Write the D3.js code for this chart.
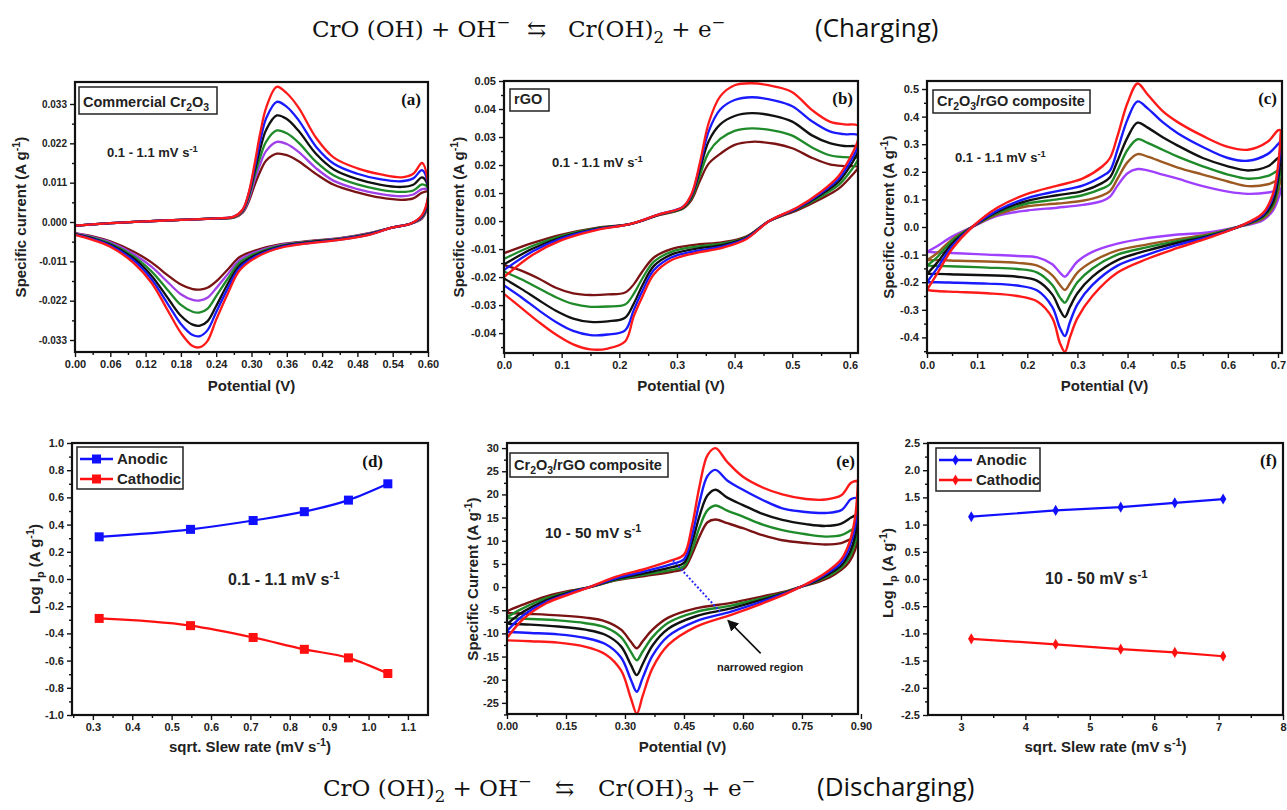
<!DOCTYPE html>
<html>
<head>
<meta charset="utf-8">
<script src="https://cdn.jsdelivr.net/npm/d3@7"></script>
<style>
  body { margin: 0; background: #fff; }
  text { font-family: 'Liberation Sans', Arial, sans-serif; }
</style>
</head>
<body>
<div id="figure"></div>
<script>
// ---------- panel (a) : commercial Cr2O3, 0.1 - 1.1 mV/s ----------
const aFwdX = [0, 0.06, 0.12, 0.18, 0.24, 0.27, 0.285, 0.295, 0.305, 0.315, 0.325, 0.343, 0.36, 0.38, 0.41, 0.44, 0.48, 0.52, 0.555, 0.575, 0.59, 0.60]
const aFwdY = [
  [-0.0010, -0.0003, 0.0002, 0.0006, 0.0010, 0.0015, 0.0035, 0.0080, 0.0160, 0.0250, 0.0320, 0.0378, 0.0360, 0.0320, 0.0235, 0.0180, 0.0150, 0.0133, 0.0125, 0.0135, 0.0165, 0.0110],
  [-0.0010, -0.0003, 0.0002, 0.0006, 0.0010, 0.0015, 0.0034, 0.0078, 0.0150, 0.0228, 0.0290, 0.0336, 0.0322, 0.0285, 0.0210, 0.0163, 0.0135, 0.0119, 0.0114, 0.0122, 0.0145, 0.0105],
  [-0.0010, -0.0003, 0.0002, 0.0006, 0.0010, 0.0014, 0.0032, 0.0074, 0.0140, 0.0205, 0.0258, 0.0298, 0.0288, 0.0255, 0.0190, 0.0147, 0.0120, 0.0104, 0.0098, 0.0104, 0.0125, 0.0100],
  [-0.0010, -0.0003, 0.0002, 0.0006, 0.0010, 0.0013, 0.0030, 0.0068, 0.0128, 0.0182, 0.0225, 0.0256, 0.0248, 0.0222, 0.0168, 0.0130, 0.0105, 0.0090, 0.0084, 0.0088, 0.0105, 0.0095],
  [-0.0010, -0.0003, 0.0002, 0.0006, 0.0010, 0.0013, 0.0028, 0.0062, 0.0116, 0.0163, 0.0199, 0.0224, 0.0218, 0.0196, 0.0150, 0.0115, 0.0092, 0.0078, 0.0072, 0.0077, 0.0092, 0.0090],
  [-0.0010, -0.0003, 0.0002, 0.0006, 0.0010, 0.0012, 0.0026, 0.0056, 0.0102, 0.0142, 0.0172, 0.0191, 0.0187, 0.0170, 0.0134, 0.0104, 0.0083, 0.0068, 0.0062, 0.0066, 0.0082, 0.0085]
]
const aRevX = [0.60, 0.59, 0.57, 0.54, 0.50, 0.45, 0.40, 0.35, 0.31, 0.28, 0.26, 0.24, 0.225, 0.2125, 0.20, 0.18, 0.16, 0.13, 0.10, 0.06, 0.03, 0]
const aRevY = [
  [0.0070, 0.0020, -0.0005, -0.0015, -0.0036, -0.0050, -0.0059, -0.0072, -0.0097, -0.0135, -0.0199, -0.0273, -0.0333, -0.0350, -0.0347, -0.0310, -0.0254, -0.0170, -0.0115, -0.0069, -0.0050, -0.0036],
  [0.0065, 0.0018, -0.0005, -0.0015, -0.0035, -0.0049, -0.0058, -0.0070, -0.0094, -0.0128, -0.0185, -0.0252, -0.0303, -0.0319, -0.0316, -0.0285, -0.0235, -0.0160, -0.0108, -0.0066, -0.0048, -0.0035],
  [0.0060, 0.0016, -0.0005, -0.0015, -0.0034, -0.0048, -0.0056, -0.0068, -0.0090, -0.0121, -0.0172, -0.0235, -0.0278, -0.0290, -0.0287, -0.0262, -0.0218, -0.0150, -0.0102, -0.0063, -0.0046, -0.0034],
  [0.0055, 0.0014, -0.0005, -0.0015, -0.0033, -0.0047, -0.0055, -0.0066, -0.0086, -0.0113, -0.0158, -0.0207, -0.0243, -0.0253, -0.0251, -0.0232, -0.0195, -0.0138, -0.0096, -0.0060, -0.0044, -0.0033],
  [0.0052, 0.0012, -0.0005, -0.0015, -0.0032, -0.0046, -0.0054, -0.0064, -0.0082, -0.0106, -0.0145, -0.0185, -0.0212, -0.0219, -0.0218, -0.0202, -0.0172, -0.0125, -0.0090, -0.0057, -0.0042, -0.0032],
  [0.0050, 0.0010, -0.0005, -0.0015, -0.0031, -0.0045, -0.0053, -0.0062, -0.0078, -0.0098, -0.0132, -0.0166, -0.0184, -0.0189, -0.0188, -0.0175, -0.0152, -0.0113, -0.0083, -0.0054, -0.0040, -0.0031]
]

// ---------- panel (b) : rGO ----------
const bFwdX = [0, 0.05, 0.10, 0.16, 0.22, 0.27, 0.31, 0.325, 0.34, 0.355, 0.375, 0.40, 0.43, 0.47, 0.50, 0.535, 0.565, 0.59, 0.614]
const bFwdY = [
  [-0.0200, -0.0120, -0.0068, -0.0032, -0.0010, 0.0025, 0.0050, 0.0095, 0.0210, 0.0350, 0.0445, 0.0485, 0.0492, 0.0480, 0.0460, 0.0395, 0.0355, 0.0345, 0.0340],
  [-0.0175, -0.0108, -0.0062, -0.0030, -0.0010, 0.0025, 0.0050, 0.0092, 0.0200, 0.0320, 0.0398, 0.0432, 0.0442, 0.0430, 0.0410, 0.0355, 0.0320, 0.0310, 0.0307],
  [-0.0155, -0.0098, -0.0058, -0.0028, -0.0010, 0.0024, 0.0048, 0.0088, 0.0185, 0.0285, 0.0345, 0.0375, 0.0385, 0.0375, 0.0355, 0.0305, 0.0278, 0.0268, 0.0265],
  [-0.0135, -0.0088, -0.0053, -0.0026, -0.0010, 0.0023, 0.0046, 0.0082, 0.0165, 0.0245, 0.0293, 0.0322, 0.0331, 0.0322, 0.0305, 0.0262, 0.0235, 0.0228, 0.0225],
  [-0.0115, -0.0078, -0.0048, -0.0024, -0.0010, 0.0022, 0.0044, 0.0075, 0.0145, 0.0205, 0.0240, 0.0272, 0.0283, 0.0276, 0.0260, 0.0225, 0.0202, 0.0196, 0.0194]
]
const bRevX = [0.614, 0.60, 0.58, 0.55, 0.51, 0.46, 0.42, 0.38, 0.33, 0.29, 0.26, 0.24, 0.225, 0.21, 0.18, 0.15, 0.12, 0.09, 0.06, 0.03, 0]
const bRevY = [
  [0.0290, 0.0225, 0.0160, 0.0105, 0.0050, 0.0000, -0.0065, -0.0095, -0.0115, -0.0140, -0.0190, -0.0270, -0.0340, -0.0430, -0.0455, -0.0458, -0.0440, -0.0405, -0.0360, -0.0310, -0.0260],
  [0.0270, 0.0210, 0.0150, 0.0100, 0.0048, 0.0000, -0.0062, -0.0090, -0.0108, -0.0130, -0.0175, -0.0250, -0.0318, -0.0390, -0.0405, -0.0407, -0.0392, -0.0360, -0.0318, -0.0272, -0.0230],
  [0.0250, 0.0195, 0.0140, 0.0095, 0.0046, 0.0000, -0.0060, -0.0085, -0.0100, -0.0120, -0.0160, -0.0230, -0.0295, -0.0345, -0.0358, -0.0360, -0.0348, -0.0320, -0.0282, -0.0242, -0.0205],
  [0.0220, 0.0175, 0.0128, 0.0088, 0.0044, 0.0000, -0.0058, -0.0080, -0.0092, -0.0110, -0.0145, -0.0205, -0.0260, -0.0298, -0.0305, -0.0306, -0.0296, -0.0272, -0.0240, -0.0208, -0.0180],
  [0.0190, 0.0155, 0.0115, 0.0080, 0.0040, 0.0000, -0.0055, -0.0075, -0.0085, -0.0100, -0.0130, -0.0180, -0.0226, -0.0255, -0.0262, -0.0264, -0.0258, -0.0238, -0.0205, -0.0177, -0.0157]
]

// ---------- panel (c) : Cr2O3/rGO composite, 0.1 - 1.1 mV/s ----------
const cFwdX = [0, 0.02, 0.05, 0.09, 0.14, 0.20, 0.26, 0.31, 0.35, 0.365, 0.38, 0.40, 0.42, 0.44, 0.47, 0.50, 0.55, 0.60, 0.64, 0.68, 0.70, 0.705]
const cFwdY = [
  [-0.228, -0.17, -0.08, 0.00, 0.07, 0.12, 0.15, 0.175, 0.22, 0.25, 0.33, 0.45, 0.52, 0.48, 0.42, 0.38, 0.33, 0.29, 0.28, 0.31, 0.35, 0.35],
  [-0.20, -0.15, -0.07, 0.00, 0.06, 0.105, 0.13, 0.15, 0.185, 0.205, 0.28, 0.39, 0.455, 0.43, 0.38, 0.34, 0.29, 0.25, 0.24, 0.265, 0.30, 0.31],
  [-0.17, -0.13, -0.06, 0.00, 0.055, 0.095, 0.115, 0.13, 0.16, 0.18, 0.24, 0.325, 0.378, 0.36, 0.325, 0.295, 0.25, 0.22, 0.205, 0.22, 0.25, 0.255],
  [-0.14, -0.11, -0.05, 0.00, 0.05, 0.085, 0.10, 0.115, 0.14, 0.155, 0.205, 0.28, 0.318, 0.305, 0.28, 0.255, 0.22, 0.19, 0.175, 0.185, 0.205, 0.21],
  [-0.12, -0.095, -0.045, 0.00, 0.045, 0.075, 0.085, 0.095, 0.115, 0.13, 0.175, 0.235, 0.264, 0.255, 0.235, 0.215, 0.19, 0.165, 0.148, 0.155, 0.17, 0.175],
  [-0.09, -0.07, -0.035, 0.00, 0.04, 0.06, 0.07, 0.08, 0.095, 0.11, 0.15, 0.195, 0.21, 0.205, 0.19, 0.175, 0.148, 0.128, 0.12, 0.125, 0.135, 0.14]
]
const cRevX = [0.705, 0.70, 0.69, 0.67, 0.62, 0.56, 0.50, 0.44, 0.38, 0.33, 0.30, 0.285, 0.275, 0.265, 0.25, 0.22, 0.18, 0.12, 0.06, 0.02, 0]
const cRevY = [
  [0.33, 0.22, 0.12, 0.05, 0.00, -0.040, -0.076, -0.115, -0.165, -0.25, -0.33, -0.40, -0.452, -0.42, -0.33, -0.27, -0.25, -0.24, -0.235, -0.232, -0.228],
  [0.30, 0.20, 0.11, 0.045, 0.00, -0.037, -0.065, -0.10, -0.14, -0.21, -0.28, -0.345, -0.395, -0.365, -0.29, -0.23, -0.212, -0.205, -0.202, -0.20, -0.20],
  [0.25, 0.17, 0.09, 0.04, 0.00, -0.033, -0.057, -0.085, -0.12, -0.18, -0.24, -0.29, -0.326, -0.30, -0.245, -0.195, -0.18, -0.175, -0.172, -0.17, -0.17],
  [0.21, 0.145, 0.08, 0.035, 0.00, -0.030, -0.050, -0.073, -0.10, -0.15, -0.20, -0.245, -0.274, -0.255, -0.21, -0.165, -0.152, -0.147, -0.143, -0.141, -0.14],
  [0.175, 0.125, 0.07, 0.03, 0.00, -0.027, -0.044, -0.063, -0.085, -0.125, -0.165, -0.205, -0.228, -0.21, -0.175, -0.14, -0.13, -0.125, -0.122, -0.12, -0.12],
  [0.13, 0.10, 0.06, 0.025, 0.00, -0.020, -0.027, -0.040, -0.06, -0.09, -0.125, -0.16, -0.18, -0.165, -0.135, -0.11, -0.105, -0.10, -0.095, -0.092, -0.09]
]

// ---------- panel (d) : log Ip vs sqrt rate, 0.1 - 1.1 mV/s ----------
const dRate = [0.316, 0.548, 0.707, 0.837, 0.949, 1.049]
const dAnodic = [0.31, 0.365, 0.43, 0.495, 0.58, 0.70]
const dCathodic = [-0.29, -0.343, -0.43, -0.517, -0.58, -0.695]

// ---------- panel (e) : Cr2O3/rGO composite, 10 - 50 mV/s ----------
const eFwdX = [0, 0.04, 0.10, 0.16, 0.21, 0.28, 0.35, 0.42, 0.45, 0.47, 0.49, 0.51, 0.53, 0.56, 0.60, 0.65, 0.70, 0.76, 0.81, 0.85, 0.875, 0.8925]
const eFwdY = [
  [-11.0, -7.0, -3.5, -1.5, 0.0, 2.3, 3.9, 5.8, 7.0, 13, 22, 28.5, 30.0, 27.0, 23.8, 21.5, 20.0, 19.0, 18.9, 19.8, 22.5, 23.0],
  [-9.5, -6.2, -3.2, -1.3, 0.0, 2.0, 3.4, 5.0, 6.0, 11, 18.5, 24, 25.3, 23, 21, 18.8, 17, 16.2, 16.0, 16.6, 19.0, 19.3],
  [-8.0, -5.4, -2.8, -1.1, 0.0, 1.8, 3.0, 4.3, 5.2, 9.5, 15.5, 19.8, 21.0, 19.3, 17.7, 15.8, 14.5, 13.6, 13.2, 13.7, 15.0, 15.8],
  [-6.5, -4.6, -2.4, -1.0, 0.0, 1.6, 2.7, 3.7, 4.5, 8.0, 13, 16.6, 17.6, 16.5, 15.2, 13.5, 12.3, 11.4, 10.9, 11.2, 12.3, 13.0],
  [-5.2, -3.8, -2.0, -0.8, 0.0, 1.5, 2.4, 3.3, 4.0, 7.0, 11, 14, 14.6, 13.8, 12.7, 11.2, 10.1, 9.5, 9.2, 9.5, 10.4, 10.8]
]
const eRevX = [0.8925, 0.885, 0.87, 0.85, 0.82, 0.78, 0.745, 0.70, 0.65, 0.57, 0.48, 0.41, 0.37, 0.345, 0.33, 0.315, 0.29, 0.25, 0.20, 0.13, 0.06, 0]
const eRevY = [
  [23.0, 15.0, 9.5, 6.0, 3.7, 1.5, 0.0, -1.8, -3.5, -6.0, -8.6, -12.5, -17.5, -23.5, -27.3, -24.0, -18.0, -14.5, -12.9, -12.0, -11.7, -11.5],
  [19.3, 13.0, 8.5, 5.3, 3.3, 1.3, 0.0, -1.6, -3.1, -5.3, -7.4, -10.6, -14.8, -19.6, -22.6, -20.0, -15.2, -12.3, -11.0, -10.2, -9.9, -9.7],
  [15.8, 11.0, 7.2, 4.7, 2.9, 1.1, 0.0, -1.4, -2.7, -4.6, -6.3, -9.0, -12.6, -16.6, -19.0, -16.8, -12.8, -10.3, -9.2, -8.5, -8.1, -7.9],
  [13.0, 9.5, 6.3, 4.2, 2.5, 1.0, 0.0, -1.3, -2.4, -4.0, -5.4, -7.7, -10.8, -13.9, -15.8, -14.0, -10.8, -8.7, -7.8, -7.2, -6.9, -6.7],
  [10.8, 8.0, 5.4, 3.7, 2.1, 0.8, 0.0, -1.1, -2.0, -3.4, -4.6, -6.6, -9.2, -11.7, -13.2, -11.8, -9.2, -7.4, -6.6, -6.1, -5.8, -5.6]
]

// ---------- panel (f) : log Ip vs sqrt rate, 10 - 50 mV/s ----------
const fRate = [3.16, 4.47, 5.48, 6.32, 7.07]
const fAnodic = [1.145, 1.26, 1.32, 1.40, 1.47]
const fCathodic = [-1.10, -1.20, -1.29, -1.35, -1.42]

// tick labels
const aXTicks = [0, 0.06, 0.12, 0.18, 0.24, 0.30, 0.36, 0.42, 0.48, 0.54, 0.60]
const aYTicks = [-0.033, -0.022, -0.011, 0, 0.011, 0.022, 0.033]
const bXTicks = [0, 0.1, 0.2, 0.3, 0.4, 0.5, 0.6]
const bYTicks = [-0.04, -0.03, -0.02, -0.01, 0, 0.01, 0.02, 0.03, 0.04, 0.05]
const cXTicks = [0, 0.1, 0.2, 0.3, 0.4, 0.5, 0.6, 0.7]
const cYTicks = [-0.4, -0.3, -0.2, -0.1, 0, 0.1, 0.2, 0.3, 0.4, 0.5]
const dXTicks = [0.3, 0.4, 0.5, 0.6, 0.7, 0.8, 0.9, 1.0, 1.1]
const dYTicks = [-1.0, -0.8, -0.6, -0.4, -0.2, 0, 0.2, 0.4, 0.6, 0.8, 1.0]
const eXTicks = [0, 0.15, 0.30, 0.45, 0.60, 0.75, 0.90]
const eYTicks = [-25, -20, -15, -10, -5, 0, 5, 10, 15, 20, 25, 30]
const fXTicks = [3, 4, 5, 6, 7, 8]
const fYTicks = [-2.5, -2.0, -1.5, -1.0, -0.5, 0, 0.5, 1.0, 1.5, 2.0, 2.5]

// colours (outermost curve first)
const cvColors6 = ['#ff1a1a', '#1a1aff', '#111111', '#1f8a2a', '#a040e8', '#7a1414']
const cvColors5 = ['#ff1a1a', '#1a1aff', '#111111', '#1f8a2a', '#7a1414']
const cColors = ['#ff1a1a', '#1a1aff', '#111111', '#1f8a2a', '#9c5a22', '#a040ff']

const svg = d3.select('#figure').append('svg')
  .attr('width', 1287).attr('height', 810)
  .style('background', '#fff')
const defs = svg.append('defs')

defs.append('marker').attr('id', 'arrowhead')
  .attr('viewBox', '0 0 10 10').attr('refX', 9).attr('refY', 5)
  .attr('markerWidth', 7).attr('markerHeight', 7).attr('orient', 'auto')
  .append('path').attr('d', 'M0,0 L10,5 L0,10 Z').attr('fill', '#111')

// text with sub / superscript pieces
function rich(sel, parts, size) {
  let shift = 0
  parts.forEach(part => {
    const [str, kind] = Array.isArray(part) ? part : [part, '']
    const target = kind === 'sub' ? 0.25 * size : kind === 'sup' ? -0.38 * size : 0
    sel.append('tspan')
      .attr('dy', target - shift)
      .attr('font-size', kind ? size * 0.72 : size)
      .text(str)
    shift = target
  })
  return sel
}

const fmt = spec => v => d3.format(spec)(v).replace('\u2212', '-')

function makePanel(p) {
  const x = d3.scaleLinear().domain(p.xDomain).range([p.left, p.right])
  const y = d3.scaleLinear().domain(p.yDomain).range([p.bottom, p.top])
  const g = svg.append('g').attr('class', 'panel-' + p.id)

  defs.append('clipPath').attr('id', 'clip-' + p.id).append('rect')
    .attr('x', p.left).attr('y', p.top)
    .attr('width', p.right - p.left).attr('height', p.bottom - p.top)

  g.append('g').attr('transform', `translate(0,${p.bottom})`)
    .call(d3.axisBottom(x).tickValues(p.xMinor).tickSize(3).tickFormat(''))
  g.append('g').attr('transform', `translate(0,${p.bottom})`)
    .call(d3.axisBottom(x).tickValues(p.xTicks).tickSize(5).tickPadding(3).tickFormat(p.xFmt))
  g.append('g').attr('transform', `translate(${p.left},0)`)
    .call(d3.axisLeft(y).tickValues(p.yMinor).tickSize(3).tickFormat(''))
  const ya = g.append('g').attr('transform', `translate(${p.left},0)`)
    .call(d3.axisLeft(y).tickValues(p.yTicks).tickSize(5).tickPadding(3).tickFormat(p.yFmt))

  g.selectAll('.domain').remove()
  g.selectAll('.tick line').attr('stroke', '#111').attr('stroke-width', 1.4)
  g.selectAll('.tick text')
    .attr('font-family', "'Liberation Sans', Arial, sans-serif")
    .attr('font-weight', 'bold').attr('font-size', 11).attr('fill', '#222')
  if (p.yTickSize) ya.selectAll('.tick text').attr('font-size', p.yTickSize)

  // axis titles
  rich(g.append('text')
    .attr('x', (p.left + p.right) / 2).attr('y', p.xTitleY)
    .attr('text-anchor', 'middle').attr('font-weight', 'bold').attr('fill', '#222'),
    p.xTitle, 15)
  rich(g.append('text')
    .attr('transform', `translate(${p.yTitleX},${p.yTitleY}) rotate(-90)`)
    .attr('text-anchor', 'middle').attr('font-weight', 'bold').attr('fill', '#222'),
    p.yTitle, 15)

  const plot = g.append('g').attr('clip-path', `url(#clip-${p.id})`)
  return { g, x, y, plot, p }
}

function frame(P) {
  const p = P.p
  P.g.append('rect')
    .attr('x', p.left).attr('y', p.top)
    .attr('width', p.right - p.left).attr('height', p.bottom - p.top)
    .attr('fill', 'none').attr('stroke', '#111').attr('stroke-width', 2.2)
}

function drawLoops(P, fwdX, fwdY, revX, revY, colors, width) {
  const line = d3.line()
    .x(d => P.x(d[0])).y(d => P.y(d[1]))
    .curve(d3.curveCatmullRom.alpha(0.5))
  const loops = fwdY.map((ys, i) =>
    fwdX.map((v, j) => [v, ys[j]]).concat(revX.map((v, j) => [v, revY[i][j]])))
  // inner curves first, outermost (red) on top
  for (let i = loops.length - 1; i >= 0; i--) {
    P.plot.append('path').datum(loops[i])
      .attr('d', line)
      .attr('fill', 'none').attr('stroke', colors[i])
      .attr('stroke-width', width).attr('stroke-linejoin', 'round')
  }
}

function boxLabel(P, dx, dy, w, h, parts) {
  const p = P.p
  P.g.append('rect')
    .attr('x', p.left + dx).attr('y', p.top + dy).attr('width', w).attr('height', h)
    .attr('fill', '#fff').attr('stroke', '#222').attr('stroke-width', 1.5)
  rich(P.g.append('text')
    .attr('x', p.left + dx + 4).attr('y', p.top + dy + h - 7)
    .attr('font-weight', 'bold').attr('fill', '#222'), parts, 14.5)
}

function panelLetter(P, xPos, yPos, letter) {
  P.g.append('text').attr('x', xPos).attr('y', yPos)
    .attr('text-anchor', 'end')
    .style('font-family', "'Liberation Serif', 'Times New Roman', serif")
    .attr('font-weight', 'bold').attr('font-size', 17).attr('fill', '#111')
    .text(letter)
}

function rateNote(P, xPos, yPos, parts, size) {
  rich(P.g.append('text').attr('x', xPos).attr('y', yPos)
    .attr('font-weight', 'bold').attr('fill', '#222'), parts, size)
}

const specTitle = ['Specific current (A g', ['-1', 'sup'], ')']
const specTitleC = ['Specific Current (A g', ['-1', 'sup'], ')']
const logTitle = ['Log I', ['p', 'sub'], ' (A g', ['-1', 'sup'], ')']
const potTitle = ['Potential (V)']
const slewTitle = ['sqrt. Slew rate (mV s', ['-1', 'sup'], ')']
const slowRate = ['0.1 - 1.1 mV s', ['-1', 'sup']]
const fastRate = ['10 - 50 mV s', ['-1', 'sup']]

// ----- (a)
const A = makePanel({
  id: 'a', left: 75, right: 428, top: 82, bottom: 352,
  xDomain: [0, 0.6], yDomain: [-0.03635, 0.03915],
  xTicks: aXTicks, xMinor: d3.range(0.03, 0.6, 0.06), xFmt: fmt('.2f'),
  yTicks: aYTicks, yMinor: d3.range(-0.0275, 0.038, 0.011), yFmt: fmt('.3f'), yTickSize: 10,
  xTitle: potTitle, xTitleY: 391, yTitle: specTitle, yTitleX: 26, yTitleY: 217
})
drawLoops(A, aFwdX, aFwdY, aRevX, aRevY, cvColors6, 2.3)
frame(A)
boxLabel(A, 4, 5, 138, 27, ['Commercial Cr', ['2', 'sub'], 'O', ['3', 'sub']])
panelLetter(A, 421, 105, '(a)')
rateNote(A, 107, 157, slowRate, 13)

// ----- (b)
const B = makePanel({
  id: 'b', left: 504, right: 858, top: 81, bottom: 353,
  xDomain: [0, 0.614], yDomain: [-0.0471, 0.05],
  xTicks: bXTicks, xMinor: d3.range(0.05, 0.61, 0.1), xFmt: fmt('.1f'),
  yTicks: bYTicks, yMinor: d3.range(-0.045, 0.05, 0.01), yFmt: fmt('.2f'),
  xTitle: potTitle, xTitleY: 391, yTitle: specTitle, yTitleX: 464, yTitleY: 217
})
drawLoops(B, bFwdX, bFwdY, bRevX, bRevY, cvColors5, 2.3)
frame(B)
boxLabel(B, 6, 8, 39, 22, ['rGO'])
panelLetter(B, 853, 104, '(b)')
rateNote(B, 552, 167, slowRate, 13)

// ----- (c)
const C = makePanel({
  id: 'c', left: 927, right: 1282, top: 81, bottom: 353,
  xDomain: [0, 0.708], yDomain: [-0.4565, 0.529],
  xTicks: cXTicks, xMinor: d3.range(0.05, 0.71, 0.1), xFmt: fmt('.1f'),
  yTicks: cYTicks, yMinor: d3.range(-0.45, 0.52, 0.1), yFmt: fmt('.1f'),
  xTitle: potTitle, xTitleY: 391, yTitle: specTitleC, yTitleX: 894, yTitleY: 217
})
drawLoops(C, cFwdX, cFwdY, cRevX, cRevY, cColors, 2.4)
frame(C)
boxLabel(C, 6, 9, 157, 23, ['Cr', ['2', 'sub'], 'O', ['3', 'sub'], '/rGO composite'])
panelLetter(C, 1277, 104, '(c)')
rateNote(C, 955, 162, slowRate, 13)

// ----- (d)
const D = makePanel({
  id: 'd', left: 72, right: 428, top: 443, bottom: 715,
  xDomain: [0.247, 1.151], yDomain: [-1, 1],
  xTicks: dXTicks, xMinor: d3.range(0.25, 1.15, 0.1), xFmt: fmt('.1f'),
  yTicks: dYTicks, yMinor: d3.range(-0.9, 1, 0.2), yFmt: fmt('.1f'),
  xTitle: slewTitle, xTitleY: 752, yTitle: logTitle, yTitleX: 40, yTitleY: 569
})
const dSeries = [
  { name: 'Anodic', values: dAnodic, color: '#1010ff' },
  { name: 'Cathodic', values: dCathodic, color: '#ff1010' }
]
const dLine = d3.line().x((v, i) => D.x(dRate[i])).y(v => D.y(v)).curve(d3.curveMonotoneX)
dSeries.forEach(s => {
  D.plot.append('path').datum(s.values).attr('d', dLine)
    .attr('fill', 'none').attr('stroke', s.color).attr('stroke-width', 2.2)
  D.plot.selectAll(null).data(s.values).join('rect')
    .attr('x', (v, i) => D.x(dRate[i]) - 4.5).attr('y', v => D.y(v) - 4.5)
    .attr('width', 9).attr('height', 9).attr('fill', s.color)
})
frame(D)
panelLetter(D, 383, 467, '(d)')
rateNote(D, 228, 585, slowRate, 16)

function legend(P, dx, dy, w, h, series, marker) {
  const p = P.p
  const lg = P.g.append('g').attr('transform', `translate(${p.left + dx},${p.top + dy})`)
  lg.append('rect').attr('width', w).attr('height', h)
    .attr('fill', '#fff').attr('stroke', '#222').attr('stroke-width', 1.5)
  series.forEach((s, i) => {
    const cy = 12 + i * 20
    lg.append('line').attr('x1', 3).attr('x2', 36).attr('y1', cy).attr('y2', cy)
      .attr('stroke', s.color).attr('stroke-width', 2.5)
    if (marker === 'square') {
      lg.append('rect').attr('x', 15).attr('y', cy - 4.5).attr('width', 9).attr('height', 9).attr('fill', s.color)
    } else {
      lg.append('path').attr('transform', `translate(19.5,${cy})`)
        .attr('d', d3.symbol(d3.symbolDiamond, 36)).attr('fill', s.color)
    }
    lg.append('text').attr('x', 40).attr('y', cy + 5)
      .attr('font-weight', 'bold').attr('font-size', 15).attr('fill', '#222')
      .text(s.name)
  })
}
legend(D, 5, 4, 106, 42, dSeries, 'square')

// ----- (e)
const E = makePanel({
  id: 'e', left: 507, right: 858, top: 443, bottom: 714,
  xDomain: [0, 0.8925], yDomain: [-27.4, 31.1],
  xTicks: eXTicks, xMinor: d3.range(0.075, 0.89, 0.15), xFmt: fmt('.2f'),
  yTicks: eYTicks, yMinor: d3.range(-27.5, 31, 5), yFmt: fmt('d'),
  xTitle: potTitle, xTitleY: 752, yTitle: specTitleC, yTitleX: 478, yTitleY: 579
})
drawLoops(E, eFwdX, eFwdY, eRevX, eRevY, cvColors5, 2.4)
// narrowed region guide and arrow (data coordinates)
E.g.append('line')
  .attr('x1', E.x(0.422)).attr('y1', E.y(5.8)).attr('x2', E.x(0.549)).attr('y2', E.y(-6.0))
  .attr('stroke', '#2a2aff').attr('stroke-width', 2).attr('stroke-dasharray', '2,2')
E.g.append('line')
  .attr('x1', E.x(0.645)).attr('y1', E.y(-14.3)).attr('x2', E.x(0.562)).attr('y2', E.y(-7.2))
  .attr('stroke', '#111').attr('stroke-width', 1.6).attr('marker-end', 'url(#arrowhead)')
E.g.append('text').attr('x', 717).attr('y', 671)
  .attr('font-weight', 'bold').attr('font-size', 11).attr('fill', '#222')
  .text('narrowed region')
frame(E)
boxLabel(E, 3, 10, 158, 24, ['Cr', ['2', 'sub'], 'O', ['3', 'sub'], '/rGO composite'])
panelLetter(E, 855, 467, '(e)')
rateNote(E, 545, 538, fastRate, 15)

// ----- (f)
const F = makePanel({
  id: 'f', left: 928, right: 1283, top: 443, bottom: 715,
  xDomain: [2.488, 8.0], yDomain: [-2.5, 2.5],
  xTicks: fXTicks, xMinor: d3.range(3.5, 8, 1), xFmt: fmt('d'),
  yTicks: fYTicks, yMinor: d3.range(-2.25, 2.5, 0.5), yFmt: fmt('.1f'),
  xTitle: slewTitle, xTitleY: 752, yTitle: logTitle, yTitleX: 893, yTitleY: 573
})
const fSeries = [
  { name: 'Anodic', values: fAnodic, color: '#1010ff' },
  { name: 'Cathodic', values: fCathodic, color: '#ff1010' }
]
const fLine = d3.line().x((v, i) => F.x(fRate[i])).y(v => F.y(v))
fSeries.forEach(s => {
  F.plot.append('path').datum(s.values).attr('d', fLine)
    .attr('fill', 'none').attr('stroke', s.color).attr('stroke-width', 2.2)
  F.plot.selectAll(null).data(s.values).join('path')
    .attr('transform', (v, i) => `translate(${F.x(fRate[i])},${F.y(v)})`)
    .attr('d', d3.symbol(d3.symbolDiamond, 36)).attr('fill', s.color)
})
frame(F)
legend(F, 8, 5, 104, 43, fSeries, 'diamond')
panelLetter(F, 1277, 466, '(f)')
rateNote(F, 1045, 584, fastRate, 16)

// ----- reaction equations
const eqSerif = "'DejaVu Serif', 'Liberation Serif', serif"
const eqSans = "'Open Sans', 'Liberation Sans', sans-serif"
const equations = [
  { y: 37, segs: [
    { x: 312, size: 23, font: eqSerif, parts: ['CrO (OH) + OH', ['\u2212', 'sup']] },
    { x: 527, size: 23, font: eqSerif, parts: ['\u21c6'] },
    { x: 568, size: 23, font: eqSerif, parts: ['Cr(OH)', ['2', 'sub'], ' + e', ['\u2212', 'sup']] },
    { x: 815, size: 26, font: eqSans, parts: ['(Charging)'] }
  ] },
  { y: 796, segs: [
    { x: 323, size: 23, font: eqSerif, parts: ['CrO (OH)', ['2', 'sub'], ' + OH', ['\u2212', 'sup']] },
    { x: 555, size: 23, font: eqSerif, parts: ['\u21c6'] },
    { x: 598, size: 23, font: eqSerif, parts: ['Cr(OH)', ['3', 'sub'], ' + e', ['\u2212', 'sup']] },
    { x: 817, size: 26, font: eqSans, parts: ['(Discharging)'] }
  ] }
]
equations.forEach(eq => {
  eq.segs.forEach(s => {
    rich(svg.append('text').attr('x', s.x).attr('y', eq.y)
      .style('font-family', s.font).attr('fill', '#111'), s.parts, s.size)
  })
})
</script>
</body>
</html>
